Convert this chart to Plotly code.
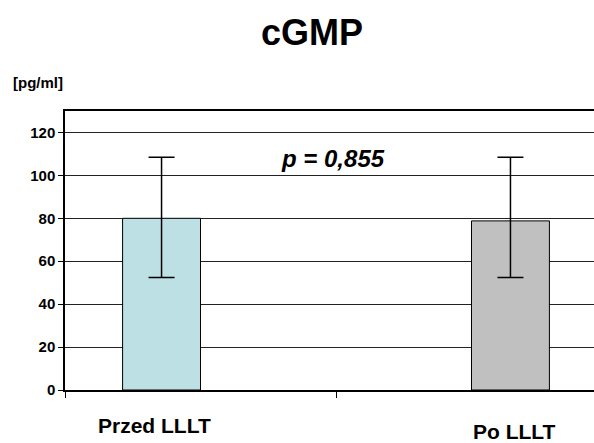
import plotly.graph_objects as go

categories = ["Przed LLLT", "Po LLLT"]
means = [80.0, 78.8]
err_plus = [28.4, 29.6]
err_minus = [27.6, 26.4]
bar_colors = ["#BCE0E3", "#C0C0C0"]
y_ticks = [0, 20, 40, 60, 80, 100, 120]
title_text = "cGMP"
unit_text = "[pg/ml]"
p_text = "p = 0,855"

FONT = "Liberation Sans, Arial, sans-serif"

fig = go.Figure()
for i, cat in enumerate(categories):
    yvals = [None] * len(categories)
    yvals[i] = means[i]
    ep = [0] * len(categories)
    em = [0] * len(categories)
    ep[i] = err_plus[i]
    em[i] = err_minus[i]
    fig.add_trace(go.Bar(
        x=categories, y=yvals, name=cat,
        marker=dict(color=bar_colors[i], line=dict(color="#000000", width=1)),
        error_y=dict(type="data", array=ep, arrayminus=em, visible=True,
                     color="#000000", thickness=1.5, width=13),
        showlegend=False,
    ))

fig.update_layout(
    width=594, height=443,
    margin=dict(l=65, r=0, t=111, b=53),
    paper_bgcolor="white", plot_bgcolor="white",
    barmode="group", bargap=0.425, bargroupgap=0,
    font=dict(family=FONT, color="#000000"),
    xaxis=dict(
        type="category", range=[-0.5, 1.452],
        showticklabels=False, ticks="outside", ticklen=6, tickwidth=1,
        tickcolor="#000000", tickson="boundaries",
        showline=True, linecolor="#000000", linewidth=1.5, mirror=True,
        showgrid=False, zeroline=False,
    ),
    yaxis=dict(
        range=[0, 130], tickvals=y_ticks, ticks="outside", ticklen=5,
        tickcolor="#000000", showline=True, linecolor="#000000", linewidth=1.5,
        showgrid=True, gridcolor="#222222", gridwidth=1, zeroline=False,
        tickfont=dict(family=FONT, size=15, color="#000000", weight="bold"),
    ),
    annotations=[
        dict(text="<b>" + title_text + "</b>", xref="paper", yref="paper",
             x=(311.5 - 65) / 529, y=(443 - 32.5 - 53) / 279, xanchor="center",
             yanchor="middle", showarrow=False, font=dict(size=36, family=FONT)),
        dict(text="<b>" + unit_text + "</b>", xref="paper", yref="paper",
             x=(11 - 65) / 529, y=(443 - 83 - 53) / 279, xanchor="left",
             yanchor="middle", showarrow=False, font=dict(size=15, family=FONT)),
        dict(text="<b><i>" + p_text + "</i></b>", xref="paper", yref="paper",
             x=(333 - 65) / 529, y=(443 - 158 - 53) / 279, xanchor="center",
             yanchor="middle", showarrow=False, font=dict(size=24, family=FONT)),
        dict(text="<b>" + categories[0] + "</b>", xref="x", yref="paper",
             x=categories[0], xshift=-46, y=(443 - 425 - 53) / 279,
             xanchor="center", yanchor="middle", showarrow=False,
             font=dict(size=21, family=FONT)),
        dict(text="<b>" + categories[1] + "</b>", xref="x", yref="paper",
             x=categories[1], xshift=43, y=(443 - 431 - 53) / 279,
             xanchor="center", yanchor="middle", showarrow=False,
             font=dict(size=21, family=FONT)),
    ],
)

fig.write_html(
    "out.html",
    config={"displayModeBar": False},
    post_script="document.body.style.margin='0';document.body.style.overflow='hidden';",
)
